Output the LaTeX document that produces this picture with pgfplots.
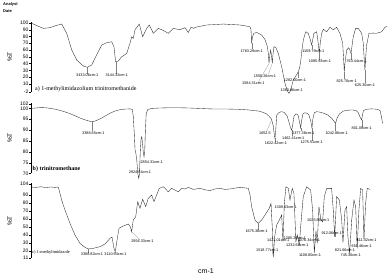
\documentclass[border=0pt]{standalone}
\usepackage{fontspec}
\setmainfont{Liberation Sans}
\newfontfamily\seriffont{Liberation Serif}
\usepackage{pgfplots}
\pgfplotsset{compat=1.18}
\tikzset{
  lab/.style={font=\fontsize{3.8}{4}\selectfont, inner sep=0pt},
  ld/.style={gray, line width=0.2pt},
}
\begin{document}
\begin{tikzpicture}
\useasboundingbox (0pt,0pt) rectangle (392pt,276pt);
\pgfplotsset{
  irax/.style={
    scale only axis, width=356pt, anchor=south west,
    xmin=400, xmax=4000, x dir=reverse,
    axis y line=left, axis x line=none,
    axis line style={-, line width=0.4pt},
    tick align=outside, major tick length=1.6pt,
    tick style={black, line width=0.3pt},
    clip=false,
    /pgf/number format/assume math mode=true,
    /pgf/number format/set thousands separator={},
    yticklabel style={font=\fontsize{5}{5.5}\selectfont, inner sep=0.8pt},
    xticklabel style={font=\fontsize{5.2}{5.5}\selectfont, inner sep=1pt},
  },
  spec/.style={black!85, line width=0.35pt, mark=none},
}
% header
\node[anchor=west, font=\fontsize{4}{4.5}\selectfont\bfseries, inner sep=0] at (3pt,272pt) {Analyst};
\node[anchor=west, font=\fontsize{4}{4.5}\selectfont\bfseries, inner sep=0] at (3pt,265pt) {Date};
% %T labels
\node[rotate=90, font=\fontsize{6.5}{7}\selectfont] at (10pt,219pt) {\%T};
\node[rotate=90, font=\fontsize{6.5}{7}\selectfont] at (10pt,138pt) {\%T};
\node[rotate=90, font=\fontsize{6.5}{7}\selectfont] at (10pt,55pt) {\%T};
\node[font=\fontsize{7}{8}\selectfont] at (206pt,5pt) {cm-1};

% ---------------- panel a
\begin{axis}[irax, at={(31pt,184pt)}, height=70.4pt, ymin=-2, ymax=102,
  ytick={-2,10,20,30,40,50,60,70,80,90,100}]
\addplot[spec] coordinates {
(4000,100) (3940,96) (3876,92) (3808,93) (3750,96) (3690,98.5) (3639,84.7) (3588,60) (3538,45.3) (3471,36.4) (3431,34.5) (3386,37.9) (3336,52.7) (3285,67.4) (3235,70.8) (3184,72.3) (3161,64.9) (3144,42.8) (3117,43.8) (3083,50) (3032,55) (2995,72) (2982,79.7) (2966,77) (2948,90) (2905,98.4) (2871,79.7) (2830,92) (2804,97) (2763,84.7) (2713,92) (2662,89) (2612,84.7) (2561,92) (2494,90) (2443,93) (2410,86) (2380,94) (2359,92) (2325,94) (2291,95) (2224,97) (2150,97.5) (2056,98.4) (1950,97.5) (1887,97) (1786,94.5) (1775,90) (1769,70) (1760,80) (1745,84.7) (1718,86) (1690,84) (1667,82) (1634,75.8) (1610,65) (1600,55) (1593,40.4) (1585,52) (1576,60) (1568,52) (1560,40.4) (1552,55) (1543,65) (1523,63.4) (1499,55) (1465,35.4) (1432,10.9) (1405,-1) (1391,-4) (1375,0) (1348,15.7) (1320,22) (1297,28) (1285,33) (1273,42.8) (1260,60) (1246,74.8) (1222,87) (1196,84.7) (1175,75) (1162,67.4) (1150,76) (1139,84.7) (1111,87) (1095,70) (1085,55) (1075,70) (1061,84.7) (1044,90.6) (1010,87) (977,93.5) (943,90) (909,93.5) (876,84.7) (848,70) (838,45) (832,28) (825,40) (808,60) (788,63.4) (775,60) (764,55) (752,68) (741,79.7) (717,92) (691,92) (656,84.7) (640,70) (630,45) (623,30.5) (615,50) (606,67.4) (582,84.7) (540,85) (505,84.7) (454,87) (421,93.5) (400,95)
};
\node[anchor=west, font=\seriffont\fontsize{6}{6.5}\selectfont, inner sep=0] at (axis cs:3960,3) {a) 1-methylimidazolium trinitromethanide};
\draw[ld] (axis cs:3431,34.5) -- (axis cs:3431,25);
\draw[ld] (axis cs:3144,42.8) -- (axis cs:3144,25);
\draw[ld] (axis cs:1769,70) -- (axis cs:1769,61);
\draw[ld] (axis cs:1593,40) -- (axis cs:1700,13);
\draw[ld] (axis cs:1560,40) -- (axis cs:1600,24);
\draw[ld] (axis cs:1297,28) -- (axis cs:1297,18);
\draw[ld] (axis cs:1162,67) -- (axis cs:1162,61);
\draw[ld] (axis cs:1085,55) -- (axis cs:1085,46);
\draw[ld] (axis cs:832,28) -- (axis cs:832,17);
\draw[ld] (axis cs:764,55) -- (axis cs:764,46);
\draw[ld] (axis cs:623,30) -- (axis cs:623,11);
\node[lab] at (axis cs:3431,22.7) {3433.06cm-1};
\node[lab] at (axis cs:3133,22.7) {3144.32cm-1};
\node[lab] at (axis cs:1768,58.6) {1763.29cm-1};
\node[lab] at (axis cs:1634,21.6) {1550.26cm-1};
\node[lab] at (axis cs:1752,10.9) {1584.31cm-1};
\node[lab] at (axis cs:1331,15.7) {1282.00cm-1};
\node[lab] at (axis cs:1364,1) {1383.96cm-1};
\node[lab] at (axis cs:1146,58.6) {1159.79cm-1};
\node[lab] at (axis cs:1078,43.8) {1085.93cm-1};
\node[lab] at (axis cs:707,43.8) {763.44cm-1};
\node[lab] at (axis cs:808,14.7) {825.70cm-1};
\node[lab] at (axis cs:623,8.3) {625.30cm-1};
\end{axis}

% ---------------- panel b
\begin{axis}[irax, at={(31pt,102.5pt)}, height=70.5pt, ymin=70, ymax=102.5,
  ytick={70,75,80,85,90,95,100,102}]
\addplot[spec] coordinates {
(4000,100) (3950,100.2) (3900,100.4) (3850,100.3) (3800,100) (3750,99.6) (3700,99) (3650,98.3) (3600,97.5) (3550,96.5) (3500,95.5) (3450,94.7) (3400,94) (3380,93.9) (3350,94.2) (3300,95.2) (3250,96.5) (3200,97.8) (3150,98.8) (3100,99.4) (3050,99.7) (3000,99.8) (2975,99.5) (2965,96) (2955,88) (2948,81) (2940,79.5) (2930,76) (2920,70) (2910,67.8) (2903,70) (2895,80) (2887,86) (2880,87) (2872,84) (2865,80) (2857,77.7) (2850,80) (2843,90) (2835,97.5) (2820,99.5) (2780,100) (2700,100.2) (2600,100.3) (2500,100.3) (2400,100.2) (2300,100) (2200,99.8) (2100,99.7) (2000,99.7) (1900,99.6) (1800,99.3) (1750,99) (1700,98.8) (1660,98.3) (1620,97.5) (1595,96.5) (1575,95.5) (1566,94.7) (1550,92) (1540,88) (1533,86.2) (1525,90) (1515,97) (1495,98) (1470,98.5) (1440,98.2) (1410,96.5) (1390,93.5) (1375,91) (1364,90) (1355,92) (1340,96.5) (1320,97.5) (1300,97) (1285,94) (1273,91) (1265,94) (1250,97.5) (1230,98) (1210,97.8) (1190,97) (1170,94) (1159,91) (1150,95) (1135,98) (1110,98.5) (1080,98.3) (1040,97.8) (1000,97) (960,95.5) (935,94) (920,93.1) (905,95.5) (880,97.5) (840,98.8) (790,99.2) (750,99.3) (710,99) (690,98) (672,96) (656,94.7) (648,97) (638,99) (610,99.6) (560,99.8) (520,99.7) (490,99.5) (470,99) (455,96) (445,93)
};
\node[anchor=west, font=\seriffont\bfseries\fontsize{6}{6.5}\selectfont, inner sep=0] at (axis cs:3985,71.9) {b) trinitromethane};
\draw[ld] (axis cs:3380,93.9) -- (axis cs:3380,89.6);
\draw[ld] (axis cs:1566,94.7) -- (axis cs:1620,89.2);
\draw[ld] (axis cs:1533,86.2) -- (axis cs:1533,84.6);
\draw[ld] (axis cs:1364,90) -- (axis cs:1364,87.2);
\draw[ld] (axis cs:1273,91) -- (axis cs:1273,89.5);
\draw[ld] (axis cs:1159,91) -- (axis cs:1159,85.1);
\draw[ld] (axis cs:920,93.1) -- (axis cs:920,89.5);
\draw[ld] (axis cs:656,94.7) -- (axis cs:656,91.5);
\node[lab] at (axis cs:3370,88.8) {3388.65cm-1};
\node[lab] at (axis cs:2780,75.2) {2854.31cm-1};
\node[lab] at (axis cs:2898,70.4) {2924.84cm-1};
\node[lab] at (axis cs:1634,88.5) {1652.5};
\node[lab] at (axis cs:1523,83.9) {1622.42cm-1};
\node[lab] at (axis cs:1348,86.5) {1462.41cm-1};
\node[lab] at (axis cs:1247,88.8) {1377.38cm-1};
\node[lab] at (axis cs:1162,84.4) {1275.51cm-1};
\node[lab] at (axis cs:909,88.8) {1042.86cm-1};
\node[lab] at (axis cs:656,90.8) {801.09cm-1};
\end{axis}

% ---------------- panel c
\begin{axis}[irax, at={(31pt,18pt)}, height=75pt, ymin=11, ymax=105,
  axis x line=bottom,
  ytick={11,20,30,40,50,60,70,80,90,104},
  xtick={400,500,1000,1500,2000,2500,3000,3500,4000}]
\addplot[spec] coordinates {
(4000,100) (3950,99.5) (3900,100.3) (3850,99.3) (3800,100) (3760,99.5) (3724,100) (3707,92) (3690,83.7) (3656,71) (3606,54.5) (3555,39.8) (3505,29.4) (3454,24.4) (3421,22.3) (3370,23.1) (3302,25.2) (3252,28.5) (3201,35.6) (3181,37.5) (3161,23.1) (3148,18.9) (3127,35.6) (3110,48.2) (3067,51.1) (3016,53.6) (2995,50) (2982,44) (2966,58.6) (2941,62.8) (2921,81.6) (2898,73.3) (2871,84.7) (2840,75.4) (2814,85.8) (2780,90) (2756,81.6) (2703,98.3) (2662,100.3) (2612,94) (2578,98.3) (2511,94) (2476,98.3) (2443,97.5) (2409,99.5) (2359,97) (2291,98.3) (2240,96.5) (2190,95.4) (2140,97.5) (2089,98.3) (2040,97) (1988,97.5) (1940,98.5) (1887,99.6) (1803,98.3) (1785,90) (1769,75.3) (1735,58.6) (1702,54.5) (1667,58.6) (1634,64.9) (1590,73.3) (1573,79.5) (1565,60) (1560,50.2) (1550,11.9) (1536,37.7) (1516,52.4) (1489,58.6) (1465,64.9) (1452,31.4) (1438,79.5) (1422,100.3) (1398,98.3) (1381,83.7) (1371,90) (1358,98.3) (1341,92) (1321,31.4) (1307,39.8) (1287,27.3) (1270,54.5) (1247,87.9) (1212,100.3) (1172,96.2) (1152,71) (1135,17.6) (1118,45) (1105,29.4) (1088,75.3) (1068,58.6) (1051,56.5) (1034,87.9) (1010,98.3) (960,98.3) (943,71) (929,37.7) (909,87.9) (882,83.7) (858,58.6) (845,30.2) (825,71) (808,75.3) (795,37.7) (778,16.9) (757,58.6) (734,83.7) (717,75.3) (701,23.1) (684,71) (666,98.3) (646,96.2) (633,33.6) (616,79.5) (600,98.3) (572,97)
};
\node[anchor=west, font=\seriffont\fontsize{4.4}{5}\selectfont, inner sep=0] at (axis cs:3990,18.5) {c) 1-methylimidazole};
\draw[ld] (axis cs:3421,22.3) -- (axis cs:3421,17.5);
\draw[ld] (axis cs:3148,18.9) -- (axis cs:3148,17.5);
\draw[ld] (axis cs:2982,44) -- (axis cs:2900,34);
\draw[ld] (axis cs:1702,54.5) -- (axis cs:1702,46);
\draw[ld] (axis cs:1550,12) -- (axis cs:1560,22);
\draw[ld] (axis cs:929,37.7) -- (axis cs:929,44);
\node[lab] at (axis cs:3383,15.6) {3388.82cm-1};
\node[lab] at (axis cs:3146,15.6) {3110.94cm-1};
\node[lab] at (axis cs:2873,32.3) {2954.33cm-1};
\node[lab] at (axis cs:1718,44) {1675.36cm-1};
\node[lab] at (axis cs:1425,75.3) {1309.63cm-1};
\node[lab] at (axis cs:1500,32.7) {1421.01cm-1};
\node[lab] at (axis cs:1611,20.2) {1518.77cm-1};
\node[lab] at (axis cs:1331,35.7) {1285.29cm-1};
\node[lab] at (axis cs:1307,26.9) {1232.66cm-1};
\node[lab] at (axis cs:1189,32.7) {1076.34cm-1};
\node[lab] at (axis cs:1179,13.9) {1108.80cm-1};
\node[lab] at (axis cs:1095,58.6) {1025.60cm-1};
\node[lab] at (axis cs:960,42) {912.06cm-1};
\node[lab] at (axis cs:825,20.2) {821.66cm-1};
\node[lab] at (axis cs:767,14.4) {745.30cm-1};
\node[lab] at (axis cs:656,26.4) {651.46cm-1};
\node[lab] at (axis cs:606,32.7) {611.32cm-1};
\end{axis}
\end{tikzpicture}
\end{document}
